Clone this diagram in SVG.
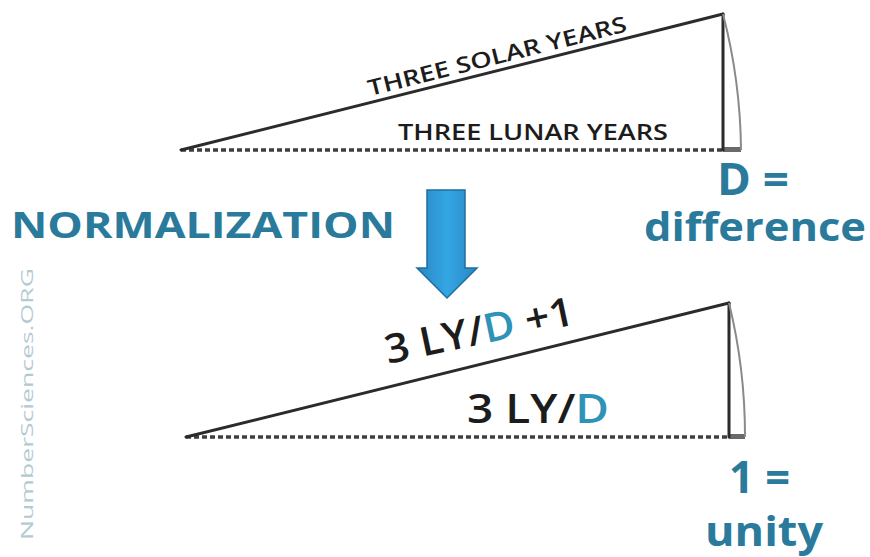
<svg xmlns="http://www.w3.org/2000/svg" width="870" height="557" viewBox="0 0 870 557">
<defs>
<style>
.solid{stroke:#2b2b2b;stroke-width:3;fill:none;stroke-linecap:round}
.dash{stroke:#3e3e3e;stroke-width:3.5;fill:none;stroke-dasharray:5 3}
.arc{stroke:#8a8a8a;stroke-width:2;fill:none}
.foot{fill:#6a6a6a}
.blk{font-family:"Open Sans","Liberation Sans",sans-serif;font-weight:600;fill:#1c1c1c}
.blu{font-family:"Open Sans","Liberation Sans",sans-serif;font-weight:bold;fill:#2a7a9c}
.lblu{fill:#2f93b8}
.wm{font-family:"Open Sans","Liberation Sans",sans-serif;fill:#b4cad2;font-size:17px}
</style>
<linearGradient id="arrowGrad" x1="0" y1="0" x2="1" y2="0">
<stop offset="0" stop-color="#2a86c4"/>
<stop offset="0.5" stop-color="#34a6e4"/>
<stop offset="1" stop-color="#2a86c4"/>
</linearGradient>
</defs>
<rect width="870" height="557" fill="#ffffff"/>
<g id="top-triangle">
<line class="dash" x1="181" y1="150" x2="723" y2="150"/>
<rect class="foot" x="723" y="147" width="18" height="5"/>
<line class="solid" x1="181" y1="150" x2="723" y2="14"/>
<line class="solid" x1="723" y1="14" x2="723" y2="150"/>
<path class="arc" d="M723,14 A560,560 0 0 1 741,150"/>
<text class="blk" font-size="22" transform="translate(370,96) rotate(-14.1)" textLength="266" lengthAdjust="spacingAndGlyphs">THREE SOLAR YEARS</text>
<text class="blk" font-size="22" x="398" y="140" textLength="270" lengthAdjust="spacingAndGlyphs">THREE LUNAR YEARS</text>
</g>
<g id="label-d">
<text class="blu" font-size="44" x="717" y="195" textLength="72" lengthAdjust="spacingAndGlyphs">D =</text>
<text class="blu" font-size="40" x="644" y="241" textLength="222" lengthAdjust="spacingAndGlyphs">difference</text>
</g>
<g id="normalization">
<text class="blu" font-size="35" x="11" y="238" textLength="384" lengthAdjust="spacingAndGlyphs" fill="#236c8f">NORMALIZATION</text>
<path d="M427,190 L465,190 L465,268 L477,268 L447,298 L417,268 L427,268 Z" fill="url(#arrowGrad)" stroke="#1f6e9e" stroke-width="1.5"/>
</g>
<g id="bottom-triangle">
<line class="dash" x1="186" y1="437" x2="729" y2="437"/>
<rect class="foot" x="729" y="434" width="16" height="5"/>
<line class="solid" x1="186" y1="437" x2="729" y2="303"/>
<line class="solid" x1="729" y1="303" x2="729" y2="437"/>
<path class="arc" d="M729,303 A559,559 0 0 1 745,437"/>
<text class="blk" font-size="40" transform="translate(388,364) rotate(-12)" textLength="192" lengthAdjust="spacingAndGlyphs">3 LY/<tspan class="lblu">D</tspan> +1</text>
<text class="blk" font-size="40" x="467" y="423" textLength="142" lengthAdjust="spacingAndGlyphs">3 LY/<tspan class="lblu">D</tspan></text>
</g>
<g id="label-1">
<text class="blu" font-size="44" x="729" y="493" textLength="61" lengthAdjust="spacingAndGlyphs">1 =</text>
<text class="blu" font-size="42" x="705" y="546" textLength="118" lengthAdjust="spacingAndGlyphs">unity</text>
</g>
<g id="watermark">
<text class="wm" transform="translate(33,540) rotate(-90)" textLength="272" lengthAdjust="spacingAndGlyphs">NumberSciences.ORG</text>
</g>
</svg>
